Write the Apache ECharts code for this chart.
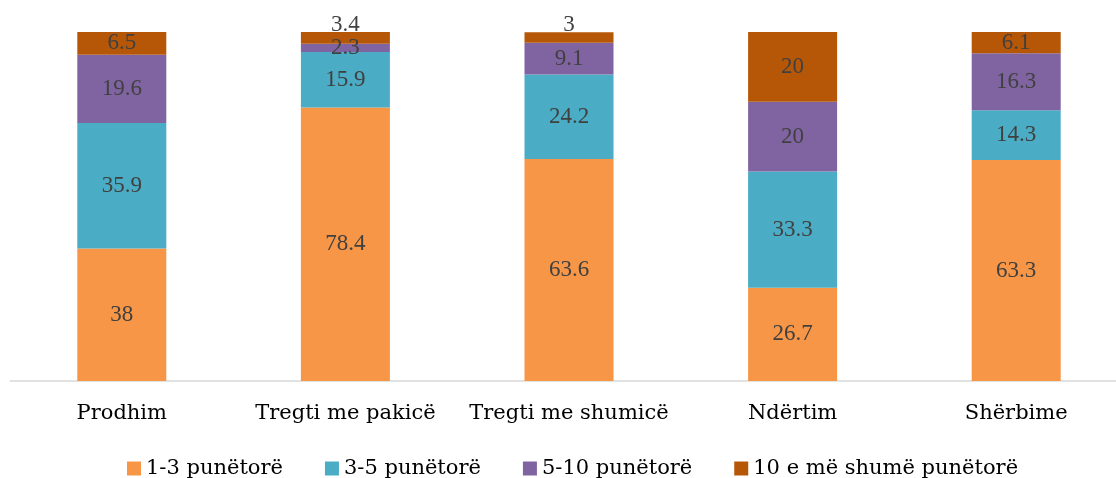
<!DOCTYPE html>
<html><head><meta charset="utf-8">
<script src="https://cdn.jsdelivr.net/npm/echarts@6/dist/echarts.min.js"></script>
<style>html,body{margin:0;padding:0;background:#fff;overflow:hidden}#c{width:1128px;height:478px}</style>
</head><body><div id="c"></div>
<script>
const categories = ["Prodhim", "Tregti me pakicë", "Tregti me shumicë", "Ndërtim", "Shërbime"];
const seriesNames = ["1-3 punëtorë", "3-5 punëtorë", "5-10 punëtorë", "10 e më shumë punëtorë"];
const s13 = [38, 78.4, 63.6, 26.7, 63.3];
const s35 = [35.9, 15.9, 24.2, 33.3, 14.3];
const s510 = [19.6, 2.3, 9.1, 20, 16.3];
const s10p = [6.5, 3.4, 3, 20, 6.1];
const colors = ["#F79646", "#4BACC6", "#8064A2", "#B65708"];

const labelFont = {fontFamily: "Liberation Serif", fontSize: 23, color: "#404040"};
function mk(name, vals, color, isTop) {
  return {
    name: name, type: "bar", stack: "t", barWidth: 89,
    itemStyle: {color: color},
    label: Object.assign({show: true, position: "inside"}, labelFont),
    data: vals.map(v => (isTop && v < 5) ? {value: v, label: {offset: [0, -13]}} : v)
  };
}
const chart = echarts.init(document.getElementById("c"), null, {renderer: "canvas"});
chart.setOption({
  animation: false,
  color: colors,
  grid: {left: 10, right: 0, top: 32, bottom: 97, containLabel: false},
  legend: {
    top: 453, left: 122, itemWidth: 14, itemHeight: 14, itemGap: 42,
    icon: "rect",
    textStyle: {fontFamily: "DejaVu Serif", fontSize: 21, color: "#000"},
    data: seriesNames
  },
  xAxis: {
    type: "category", data: categories,
    axisLine: {lineStyle: {color: "#D9D9D9", width: 1.5}},
    axisTick: {show: false},
    axisLabel: {interval: 0, fontFamily: "DejaVu Serif", fontSize: 21, color: "#000", margin: 22}
  },
  yAxis: {type: "value", min: 0, max: 100, show: false, splitLine: {show: false}},
  series: [
    mk(seriesNames[0], s13, colors[0], false),
    mk(seriesNames[1], s35, colors[1], false),
    mk(seriesNames[2], s510, colors[2], false),
    mk(seriesNames[3], s10p, colors[3], true)
  ]
});
</script></body></html>
